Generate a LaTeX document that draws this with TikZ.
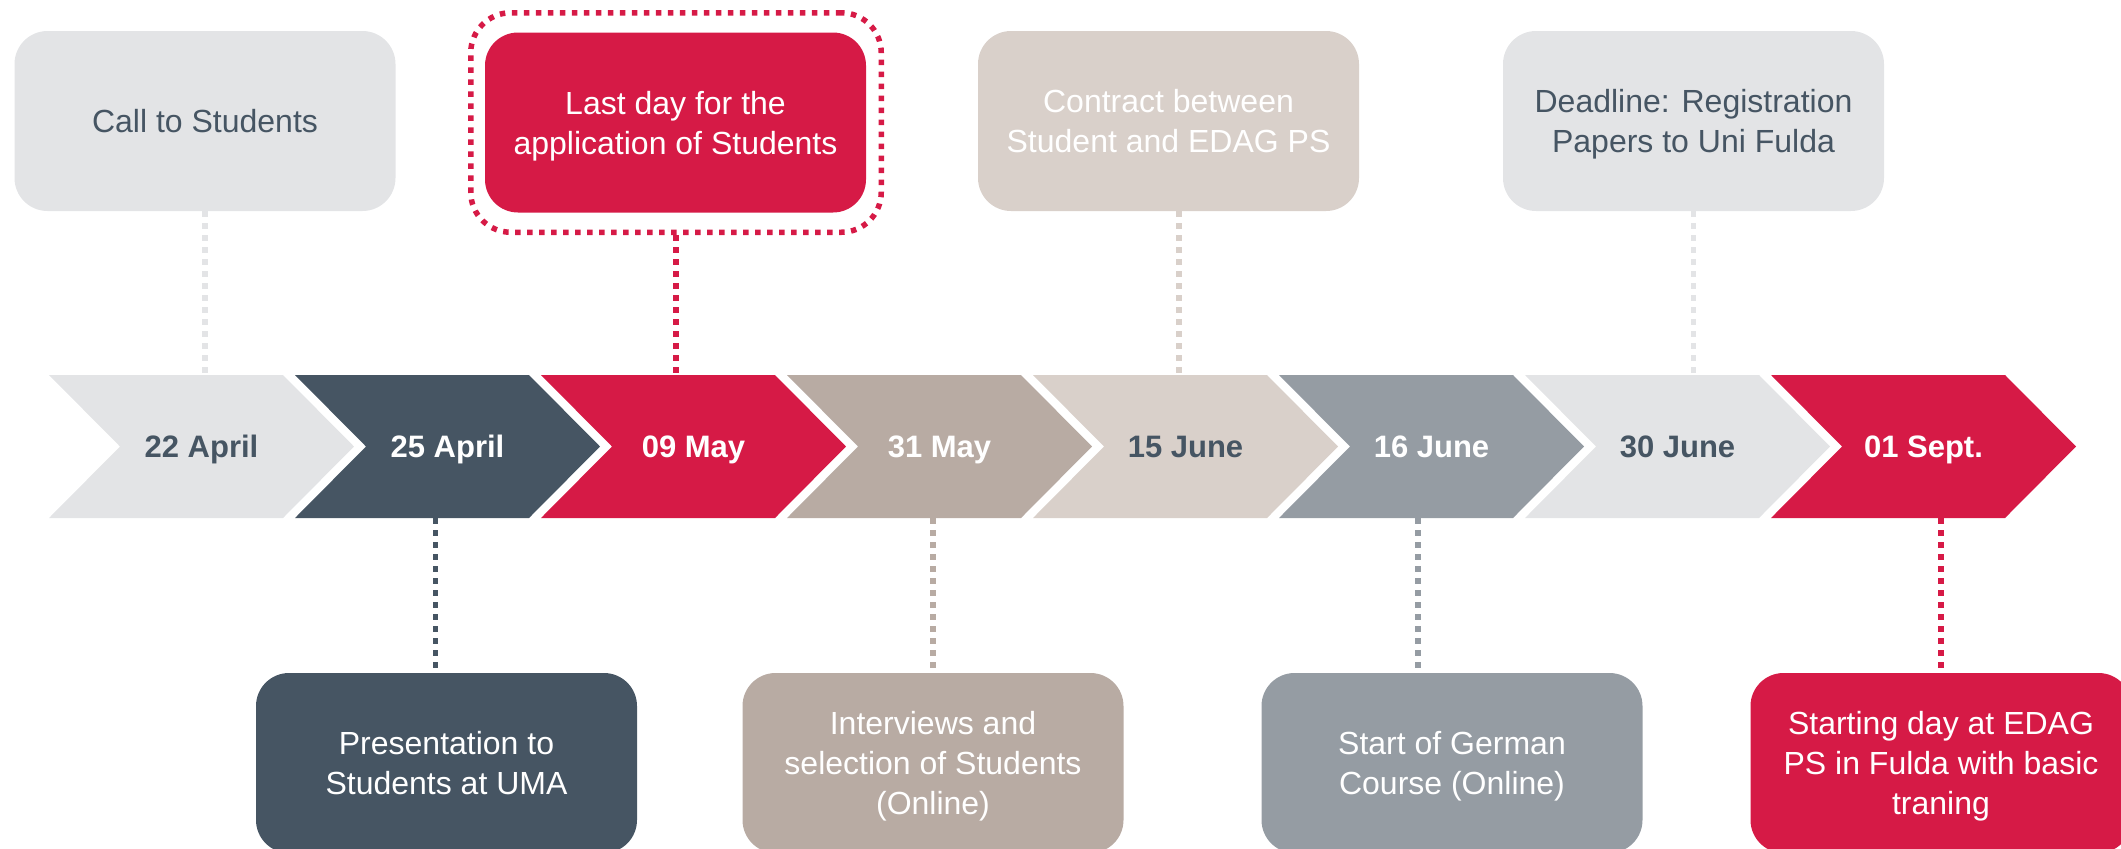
\documentclass[tikz,border=0pt]{standalone}
\usepackage{fontspec}
\setmainfont{Liberation Sans}
\definecolor{lgrey}{HTML}{E3E4E6}
\definecolor{slate}{HTML}{465563}
\definecolor{crimson}{HTML}{D61A46}
\definecolor{taupe}{HTML}{B8ABA3}
\definecolor{sand}{HTML}{D9D0CA}
\definecolor{steel}{HTML}{959CA3}
\newcommand\evtop{\rule{0pt}{15pt}}
\newcommand\evbot{\rule[-3.5pt]{0pt}{0pt}}
\begin{document}
\begin{tikzpicture}[x=.5pt,y=-.5pt,
	event/.style={rounded corners=16.5pt,minimum width=190.5pt,minimum height=90pt,align=center,inner sep=0pt,font=\fontsize{16}{20}\selectfont},
	datebox/.style={minimum width=117pt,minimum height=71.5pt,inner sep=0pt,text height=11.1pt,text depth=0pt,font=\fontsize{15.5}{18}\selectfont\bfseries},
	link/.style={line width=2.75pt,dash pattern=on 2.75pt off 3.25pt}]
		\useasboundingbox (0,0) rectangle (2121,848);
		\clip (0,0) rectangle (2121,848);
		\foreach \i/\lab/\bg/\fg in {0/22 April/lgrey/slate,1/25 April/slate/white,2/09 May/crimson/white,3/31 May/taupe/white,4/15 June/sand/slate,5/16 June/steel/white,6/30 June/lgrey/slate,7/01 Sept./crimson/white}{
			\fill[\bg] (49+246*\i,375) -- ++(234,0) -- ++(71,71.5) -- ++(-71,71.5) -- ++(-234,0) -- ++(71,-71.5) -- cycle;
			\node[datebox,text=\fg] (d\i) at (201.5+246*\i,446.5) {\lab};
		}
		\node[event,fill=lgrey,text=slate] (call) at (205,121) {\evtop Call to Students\evbot};
		\node[event,fill=crimson,text=white] (lastday) at (675.5,122.5) {\evtop Last day for the\\application of Students\evbot};
		\node[draw=crimson,link,rounded corners=20pt,minimum width=205.25pt,minimum height=109.75pt] (frame) at (676,122.5) {};
		\node[event,fill=sand,text=white] (contract) at (1168.5,121) {\evtop Contract between\\Student and EDAG PS\evbot};
		\node[event,fill=lgrey,text=slate] (deadline) at (1693.5,121) {\evtop Deadline: Registration\\Papers to Uni Fulda\evbot};
		\node[event,fill=slate,text=white] (present) at (446.5,763) {\evtop Presentation to\\Students at UMA\evbot};
		\node[event,fill=taupe,text=white] (interview) at (933,763) {\evtop Interviews and\\selection of Students\\(Online)\evbot};
		\node[event,fill=steel,text=white] (german) at (1452,763) {\evtop Start of German\\Course (Online)\evbot};
		\node[event,fill=crimson,text=white] (start) at (1941,763) {\evtop Starting day at EDAG\\PS in Fulda with basic\\traning\evbot};
		\coordinate (c4) at ([xshift=5.25pt]contract.south);
		\coordinate (p1) at ([xshift=-5.5pt]present.north);
		\coordinate (g5) at ([xshift=-17pt]german.north);
		\draw[link,lgrey] (call.south) -- (call.south |- d0.north);
		\draw[link,crimson] (frame.south) -- (frame.south |- d2.north);
		\draw[link,sand] (c4) -- (c4 |- d4.north);
		\draw[link,lgrey] (deadline.south) -- (deadline.south |- d6.north);
		\draw[link,slate] (p1 |- d1.south) -- (p1);
		\draw[link,taupe] (interview.north |- d3.south) -- (interview.north);
		\draw[link,steel] (g5 |- d5.south) -- (g5);
		\draw[link,crimson] (start.north |- d7.south) -- (start.north);
	    \end{tikzpicture}
\end{document}
